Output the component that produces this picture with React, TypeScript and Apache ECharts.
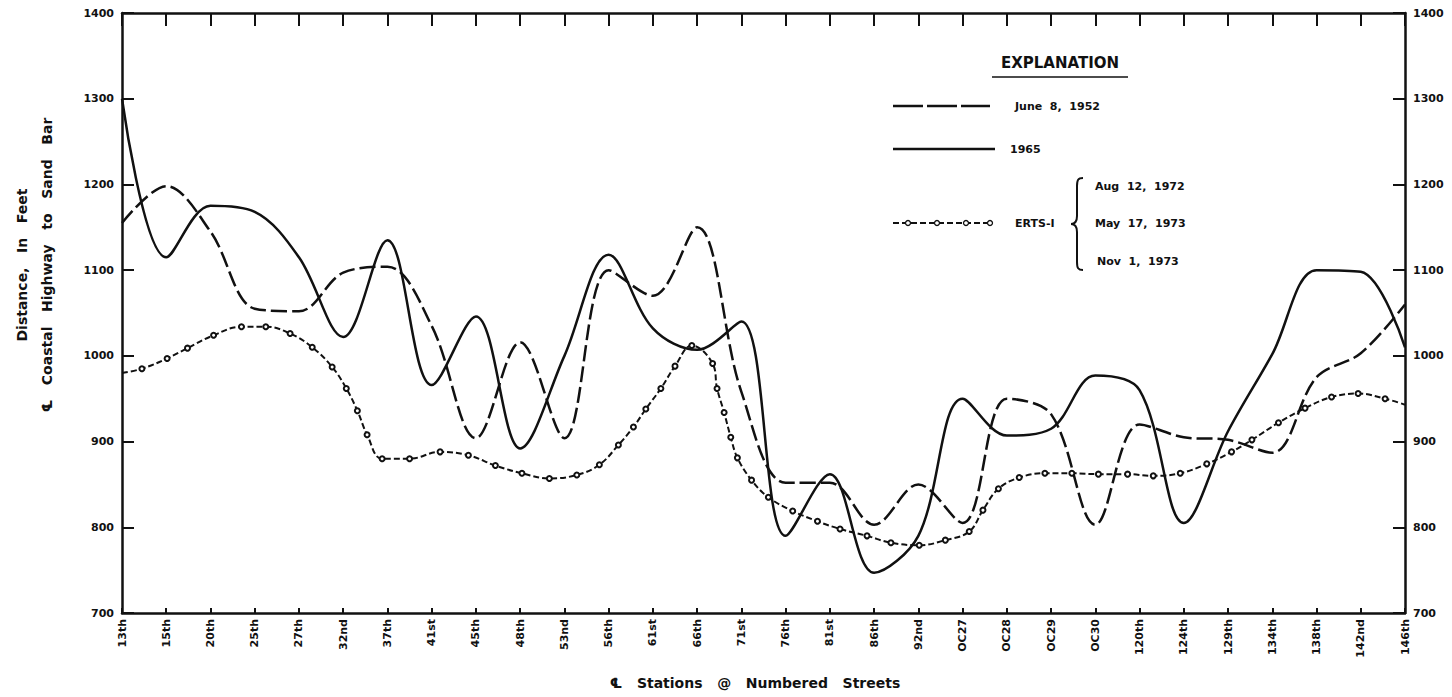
import React, { useEffect, useRef } from 'react';
import * as echarts from 'echarts';

const CATEGORIES = ['13th', '15th', '20th', '25th', '27th', '32nd', '37th', '41st', '45th', '48th', '53nd', '56th', '61st', '66th', '71st', '76th', '81st', '86th', '92nd', 'OC27', 'OC28', 'OC29', 'OC30', '120th', '124th', '129th', '134th', '138th', '142nd', '146th'];

const JUNE_1952 = [1155, 1198, 1145, 1055, 1052, 1097, 1104, 1035, 904, 1016, 904, 1100, 1070, 1150, 958, 852, 852, 803, 850, 805, 950, 932, 803, 920, 905, 902, 887, 975, 1003, 1060];

const Y_1965 = [1300, 1115, 1175, 1168, 1115, 1022, 1135, 966, 1046, 892, 1000, 1118, 1032, 1007, 1040, 790, 862, 747, 790, 950, 907, 915, 977, 960, 805, 912, 1002, 1100, 1098, 1010];

// ERTS-1 measurement points: position along the station axis (category index units) and value
const ERTS_POS = [0, 0.45, 1.02, 1.48, 2.07, 2.7, 3.25, 3.8, 4.3, 4.75, 5.07, 5.32, 5.54, 5.88, 6.5, 7.19, 7.83, 8.44, 9.04, 9.66, 10.28, 10.79, 11.22, 11.56, 11.84, 12.18, 12.5, 12.88, 13.35, 13.45, 13.61, 13.76, 13.91, 14.23, 14.61, 15.16, 15.72, 16.23, 16.84, 17.38, 18.02, 18.61, 19.15, 19.46, 19.81, 20.28, 20.86, 21.47, 22.07, 22.73, 23.31, 23.92, 24.52, 25.08, 25.54, 26.14, 26.74, 27.34, 27.94, 28.55, 29];
const ERTS_VAL = [980, 985, 997, 1009, 1024, 1034, 1034, 1026, 1010, 987, 962, 936, 908, 880, 880, 888, 884, 872, 863, 857, 861, 873, 896, 917, 938, 962, 988, 1012, 991, 962, 934, 905, 881, 855, 835, 819, 807, 798, 790, 782, 779, 785, 795, 820, 845, 858, 863, 863, 862, 862, 860, 863, 874, 888, 902, 922, 939, 952, 956, 950, 943];

const Y_MIN = 700;
const Y_MAX = 1400;
const Y_STEP = 100;

const LEGEND_TITLE = 'EXPLANATION';
const LEGEND_1952 = 'June  8,  1952';
const LEGEND_1965 = '1965';
const LEGEND_ERTS = 'ERTS-I';
const ERTS_DATES = ['Aug  12,  1972', 'May  17,  1973', 'Nov  1,  1973'];
const X_NAME = '℄   Stations   @   Numbered   Streets';
const Y_NAME_1 = 'Distance,   In   Feet';
const Y_NAME_2 = '℄   Coastal   Highway   to   Sand   Bar';

const INK = '#111';
const FONT = "'DejaVu Sans', sans-serif";

const BRACE_D = 'M12 0 C7 0 6 2 6 8 L6 38 C6 43 4 46 0 46 C4 46 6 49 6 54 L6 84 C6 90 7 92 12 92';
let braceRegistered = false;
function ensureBrace() {
  if (!braceRegistered) {
    echarts.graphic.registerShape('brace', echarts.graphic.extendPath(BRACE_D, {}) as any);
    braceRegistered = true;
  }
}

function buildOption() {
  const yAxisBase = (position: 'left' | 'right') => ({
    type: 'value',
    position,
    min: Y_MIN,
    max: Y_MAX,
    interval: Y_STEP,
    axisLine: { show: true, onZero: false, lineStyle: { color: INK, width: 2.5 } },
    axisTick: { show: true, inside: true, length: 12, lineStyle: { color: INK, width: 2 } },
    axisLabel: { color: INK, fontFamily: FONT, fontWeight: 'bold', fontSize: 11, margin: 8, formatter: (v: number) => String(v) },
    splitLine: { show: false },
  });

  const textStyle = (size: number) => `bold ${size}px ${FONT}`;

  return {
    animation: false,
    backgroundColor: '#fff',
    grid: { left: 122, right: 47, top: 13, bottom: 84, containLabel: false },
    xAxis: [
      {
        type: 'category',
        data: CATEGORIES,
        boundaryGap: false,
        position: 'bottom',
        axisLine: { show: true, onZero: false, lineStyle: { color: INK, width: 2.5 } },
        axisTick: { show: true, inside: true, length: 5, interval: 0, lineStyle: { color: INK, width: 2 } },
        axisLabel: { interval: 0, rotate: 90, color: INK, fontFamily: FONT, fontWeight: 'bold', fontSize: 11, margin: 6 },
        splitLine: { show: false },
      },
      {
        type: 'value',
        position: 'top',
        min: 0,
        max: CATEGORIES.length - 1,
        interval: 1,
        axisLine: { show: true, onZero: false, lineStyle: { color: INK, width: 2.5 } },
        axisTick: { show: true, inside: true, length: 13, lineStyle: { color: INK, width: 2 } },
        axisLabel: { show: false },
        splitLine: { show: false },
      },
    ],
    yAxis: [yAxisBase('left'), yAxisBase('right')],
    series: [
      {
        name: 'June 8, 1952',
        type: 'line',
        xAxisIndex: 0,
        yAxisIndex: 0,
        data: JUNE_1952,
        smooth: 0.35,
        symbol: 'none',
        lineStyle: { color: INK, width: 2.5, type: [16, 5] },
      },
      {
        name: '1965',
        type: 'line',
        xAxisIndex: 0,
        yAxisIndex: 0,
        data: Y_1965,
        smooth: 0.35,
        symbol: 'none',
        lineStyle: { color: INK, width: 2.5, type: 'solid' },
      },
      {
        name: 'ERTS-1',
        type: 'line',
        xAxisIndex: 1,
        yAxisIndex: 0,
        data: ERTS_POS.map((p, i) => ({
          value: [p, ERTS_VAL[i]],
          symbol: i === 0 || i === ERTS_POS.length - 1 ? 'none' : 'emptyCircle',
        })),
        smooth: 0.4,
        symbolSize: 5,
        showSymbol: true,
        lineStyle: { color: INK, width: 2, type: [6, 3] },
        itemStyle: { color: INK, borderColor: INK, borderWidth: 1.3 },
      },
    ],
    graphic: [
      {
        type: 'group',
        z: 100,
        children: [
          { type: 'text', x: 1060, y: 63, style: { text: LEGEND_TITLE, fill: INK, font: textStyle(15), align: 'center', verticalAlign: 'middle' } },
          { type: 'line', shape: { x1: 992, y1: 77, x2: 1128, y2: 77 }, style: { stroke: INK, lineWidth: 1.5 } },
          { type: 'line', shape: { x1: 893, y1: 106, x2: 990, y2: 106 }, style: { stroke: INK, lineWidth: 2.5, lineDash: [30, 4] } },
          { type: 'text', x: 1015, y: 106, style: { text: LEGEND_1952, fill: INK, font: textStyle(11), align: 'left', verticalAlign: 'middle' } },
          { type: 'line', shape: { x1: 893, y1: 149, x2: 995, y2: 149 }, style: { stroke: INK, lineWidth: 2.5 } },
          { type: 'text', x: 1010, y: 149, style: { text: LEGEND_1965, fill: INK, font: textStyle(11), align: 'left', verticalAlign: 'middle' } },
          { type: 'line', shape: { x1: 893, y1: 223, x2: 990, y2: 223 }, style: { stroke: INK, lineWidth: 2, lineDash: [6, 3] } },
          { type: 'circle', shape: { cx: 908, cy: 223, r: 2.5 }, style: { fill: '#fff', stroke: INK, lineWidth: 1.3 } },
          { type: 'circle', shape: { cx: 937, cy: 223, r: 2.5 }, style: { fill: '#fff', stroke: INK, lineWidth: 1.3 } },
          { type: 'circle', shape: { cx: 966, cy: 223, r: 2.5 }, style: { fill: '#fff', stroke: INK, lineWidth: 1.3 } },
          { type: 'circle', shape: { cx: 990, cy: 223, r: 2.5 }, style: { fill: '#fff', stroke: INK, lineWidth: 1.3 } },
          { type: 'text', x: 1015, y: 223, style: { text: LEGEND_ERTS, fill: INK, font: textStyle(11), align: 'left', verticalAlign: 'middle' } },
          { type: 'brace', x: 1071, y: 178, style: { stroke: INK, fill: 'none', lineWidth: 2 } },
          { type: 'text', x: 1095, y: 186, style: { text: ERTS_DATES[0], fill: INK, font: textStyle(11), align: 'left', verticalAlign: 'middle' } },
          { type: 'text', x: 1095, y: 223, style: { text: ERTS_DATES[1], fill: INK, font: textStyle(11), align: 'left', verticalAlign: 'middle' } },
          { type: 'text', x: 1097, y: 261, style: { text: ERTS_DATES[2], fill: INK, font: textStyle(11), align: 'left', verticalAlign: 'middle' } },
          { type: 'text', x: 755, y: 683, style: { text: X_NAME, fill: INK, font: textStyle(14), align: 'center', verticalAlign: 'middle' } },
          { type: 'text', x: 22, y: 265, rotation: Math.PI / 2, style: { text: Y_NAME_1, fill: INK, font: textStyle(14), align: 'center', verticalAlign: 'middle' } },
          { type: 'text', x: 47, y: 265, rotation: Math.PI / 2, style: { text: Y_NAME_2, fill: INK, font: textStyle(14), align: 'center', verticalAlign: 'middle' } },
        ],
      },
    ],
  };
}

export default function App() {
  const ref = useRef<HTMLDivElement>(null);
  useEffect(() => {
    ensureBrace();
    const chart = echarts.init(ref.current as HTMLDivElement, null, { renderer: 'svg' });
    chart.setOption(buildOption() as any);
    return () => chart.dispose();
  }, []);
  return (
    <div
      ref={ref}
      style={{ position: 'fixed', left: 0, top: 0, width: 1452, height: 697, background: '#fff' }}
    />
  );
}
